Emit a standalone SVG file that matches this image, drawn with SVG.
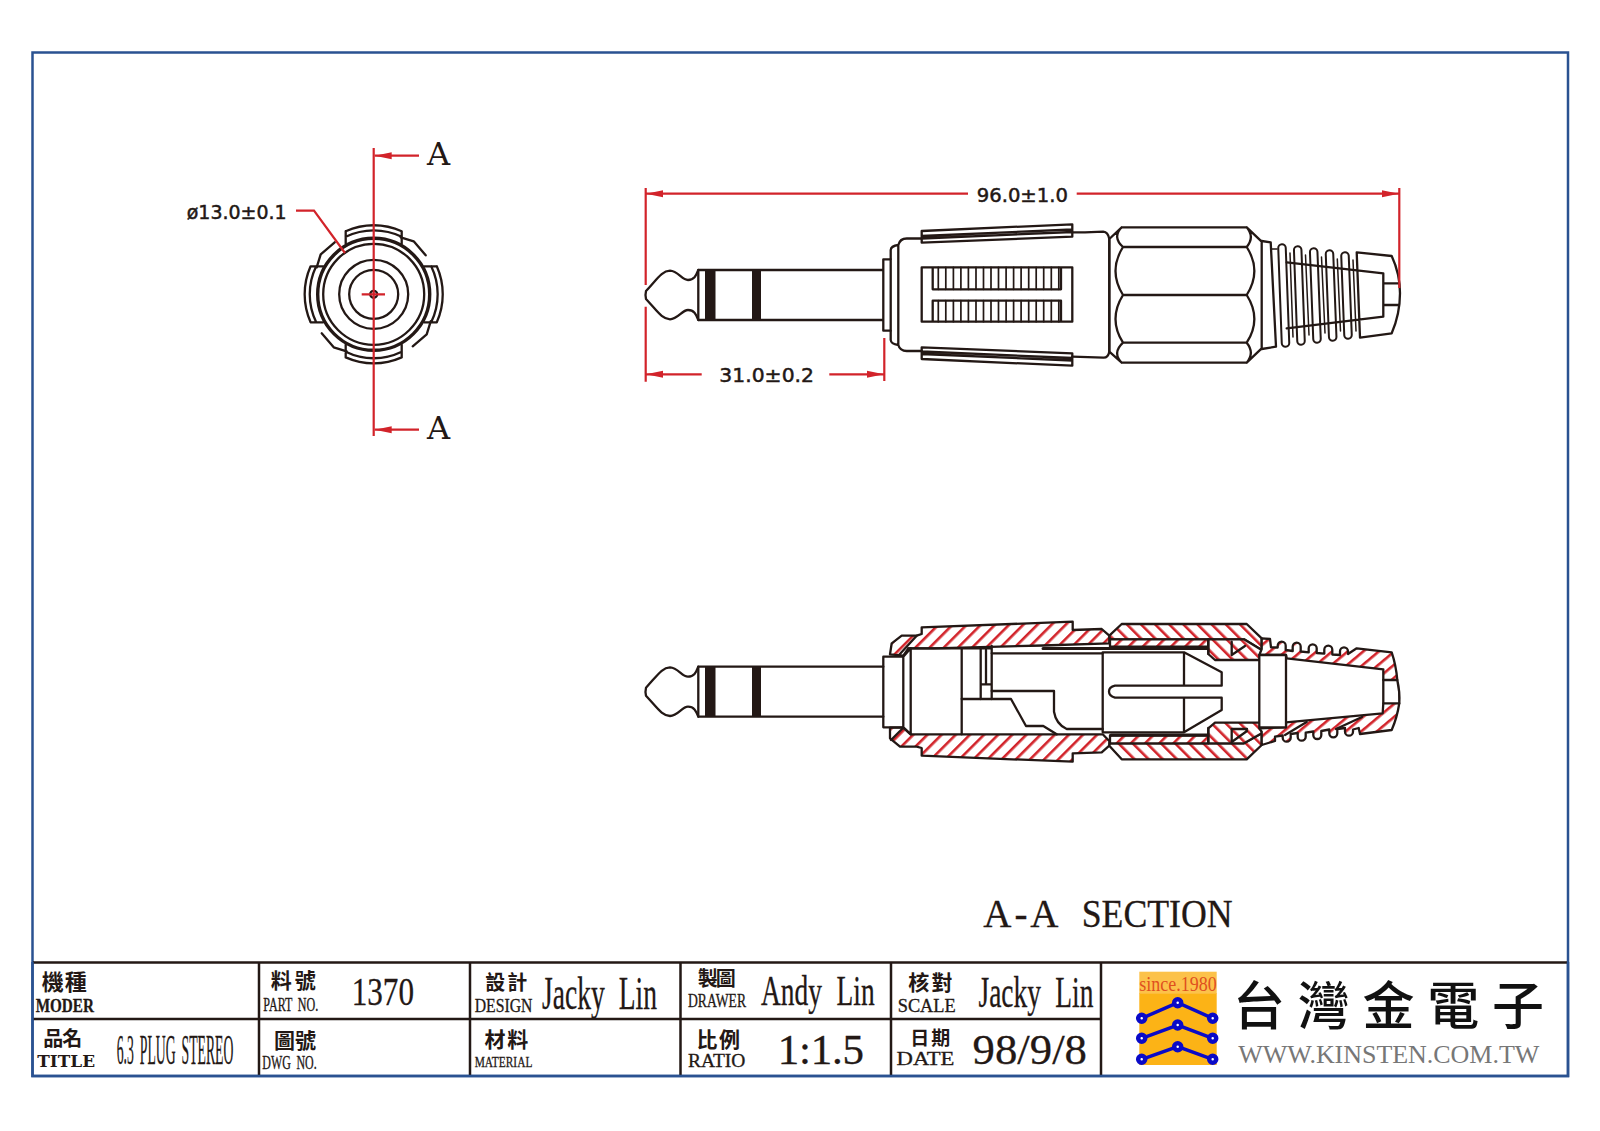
<svg xmlns="http://www.w3.org/2000/svg" xmlns:xlink="http://www.w3.org/1999/xlink" width="1600" height="1131" viewBox="0 0 1600 1131">
<style>
.k{fill:none;stroke:#231815;stroke-width:2.3;stroke-linejoin:round;stroke-linecap:round}
.w{fill:#fff;stroke:#231815;stroke-width:2.3;stroke-linejoin:round}
.r{fill:none;stroke:#d2232a;stroke-width:2.2}
.a{fill:url(#hA);stroke:#231815;stroke-width:2.3;stroke-linejoin:round}
.b{fill:url(#hB);stroke:#231815;stroke-width:2.3;stroke-linejoin:round}
.c{fill:url(#hC);stroke:#231815;stroke-width:2.3;stroke-linejoin:round}
.f{fill:#231815}
.dim{font-family:"DejaVu Sans","Liberation Sans",sans-serif;font-size:20px;fill:#231815;stroke:#231815;stroke-width:.5}
.wd{font-family:"DejaVu Serif","Liberation Serif",serif;fill:#231815}
.n{font-family:"Liberation Serif",serif;fill:#231815;stroke:#231815;stroke-width:.3}
.cj{font-family:"Noto Sans CJK TC","Noto Sans CJK SC",sans-serif;font-weight:700;fill:#231815}
.grid{stroke:#231815;stroke-width:2.5;fill:none}
.blue{stroke:#2a5291;stroke-width:2.5;fill:none}
.pb{fill:none;stroke:#0a0ac8;stroke-width:3.5}
.pc{fill:#fff;stroke:#0a0ac8;stroke-width:4.5}
.ro{stroke:#231815;stroke-width:9.5;stroke-linecap:round;fill:none}
.ri{stroke:#fff;stroke-width:5.5;stroke-linecap:round;fill:none}
</style>
<defs>
<marker id="ah" markerUnits="userSpaceOnUse" markerWidth="18" markerHeight="9" refX="17" refY="4" orient="auto"><path d="M0,0.5L17,4L0,7.5z" fill="#d2232a"/></marker>
<pattern id="hA" patternUnits="userSpaceOnUse" width="10" height="10" patternTransform="rotate(45)"><rect width="10" height="10" fill="#fff"/><rect x="4" width="2.6" height="10" fill="#d2232a"/></pattern>
<pattern id="hB" patternUnits="userSpaceOnUse" width="10" height="10" patternTransform="rotate(-45)"><rect width="10" height="10" fill="#fff"/><rect x="4" width="2.6" height="10" fill="#d2232a"/></pattern>
<pattern id="hC" patternUnits="userSpaceOnUse" width="10" height="10" patternTransform="rotate(50)"><rect width="10" height="10" fill="#fff"/><rect x="4" width="2.6" height="10" fill="#d2232a"/></pattern>
<g id="plug">
<path class="k" d="M698.3,270 C696,276 694,280 688,280 C682,280 678,271 670,270.7 C662,271 658,278 646,291 Q645,295 646,299 C658,312 662,319 670,319.3 C678,319 682,310 688,310 C694,310 696,314 698.3,320"/>
<path class="k" d="M698.3,270H883.3M698.3,320H883.3M698.3,270V320"/>
<rect class="f" x="705" y="270" width="10.5" height="50"/>
<rect class="f" x="752" y="270" width="9" height="50"/>
</g>
<path id="tab" class="k" d="M-28,-63.1A69,69 0 0 1 28,-63.1V-50.5M-28,-63.1V-50.5M-28,-57.5A64,64 0 0 1 28,-57.5M-39,-52L-53,-40L-57,-27"/>
<g id="strip" class="k"><path d="M921.7,231L1072.3,224.3V236.7L921.7,242.7ZM921.7,236L1072.3,229.5M921.7,238.5L1072.3,232"/></g>
</defs>
<rect width="1600" height="1131" fill="#fff"/>

<g id="frame">
<rect class="blue" x="32.5" y="52.5" width="1535.5" height="1023.5"/>
<path class="grid" d="M33,962.5H1567M33,1019H1101M259,962.5V1075M470,962.5V1075M680.5,962.5V1075M891,962.5V1075M1101,962.5V1075"/>
<path class="blue" d="M32.5,962V1076H1568V962"/>
</g>

<g id="end-view">
<g transform="translate(373.7,294.3)">
<circle class="k" r="56" style="stroke-width:3.4"/>
<circle class="k" r="50.5"/>
<circle class="k" r="34.5"/>
<circle class="k" r="24.5"/>
<circle class="k" r="3.5"/>
<use xlink:href="#tab" href="#tab"/>
<use xlink:href="#tab" href="#tab" transform="rotate(90)"/>
<use xlink:href="#tab" href="#tab" transform="rotate(180)"/>
<use xlink:href="#tab" href="#tab" transform="rotate(270)"/>
</g>
<path class="r" d="M373.7,148V436M361.7,294.3H385M296,210.7H314L345,253"/>
<path class="r" d="M419,155.7H374.7" marker-end="url(#ah)"/>
<path class="r" d="M419,429.7H374.7" marker-end="url(#ah)"/>
<text class="wd" x="427" y="164.700" font-size="32">A</text>
<text class="wd" x="427" y="439" font-size="32">A</text>
<text class="dim" x="186.700" y="219" textLength="100" lengthAdjust="spacingAndGlyphs">ø13.0±0.1</text>
</g>

<g id="side-view">
<use xlink:href="#plug" href="#plug"/>
<path class="w" d="M883.3,259.3H890.7V330.7H883.3Z"/>
<path class="k" d="M890.7,259V250Q891,246 898.3,245Q900,238.500 906.7,238.500H921.7M890.7,331V340Q891,344 898.300,345Q900,351 906.7,351H921.7M898.3,245V345"/>
<path class="k" d="M1072.3,232.300H1085L1103.3,231.700Q1108,232 1109.3,239V351.700Q1108,358 1103.3,357.700L1072.3,356.700"/>
<use xlink:href="#strip" href="#strip"/>
<use xlink:href="#strip" href="#strip" transform="translate(0,590) scale(1,-1)"/>
<path class="k" d="M921.7,267.300H1072.300V321.700H921.7ZM932.700,267.300V289.300H1061V267.300M932.700,321.700V300.700H1061V321.700"/>
<path class="k" style="stroke-width:1.700" d="M938.300,267.300V289.300M945.800,267.300V289.300M953.400,267.300V289.300M960.900,267.300V289.300M968.400,267.300V289.300M976,267.300V289.300M983.500,267.300V289.300M991,267.300V289.300M998.500,267.300V289.300M1006.100,267.300V289.300M1013.600,267.300V289.300M1021.100,267.300V289.300M1028.700,267.300V289.300M1036.200,267.300V289.300M1043.700,267.300V289.300M1051.300,267.300V289.300M1058.800,267.300V289.300M938.300,300.700V321.700M945.800,300.700V321.700M953.400,300.700V321.700M960.900,300.700V321.700M968.400,300.700V321.700M976,300.700V321.700M983.500,300.700V321.700M991,300.700V321.700M998.500,300.700V321.700M1006.100,300.700V321.700M1013.600,300.700V321.700M1021.100,300.700V321.700M1028.700,300.700V321.700M1036.200,300.700V321.700M1043.700,300.700V321.700M1051.300,300.700V321.700M1058.800,300.700V321.700"/>
<path class="k" d="M1109.300,239L1121.700,227.300H1246.700L1261.700,241.700V348.300L1246.700,362.700H1121.700L1109.300,351.700ZM1123,247H1246.700M1123,295H1246.700M1123,342.700H1246.700M1121.700,227.300Q1112,237 1123,247Q1108,271 1123,295Q1108,319 1123,342.700Q1112,353 1121.700,362.700M1246.700,227.300Q1255,237 1246.700,247Q1262,271 1246.700,295Q1262,319 1246.700,342.700Q1255,353 1246.700,362.700"/>
<path class="k" d="M1261.700,241L1270.700,242.300L1276,346.700L1261.700,349"/>
<g>
<path class="ro" d="M1282,248L1285.500,343M1297.700,250L1301,341M1313.700,252L1317,339M1329.500,254L1332.700,337M1345,256L1348,335"/>
<path class="ri" d="M1282,248L1285.500,343M1297.700,250L1301,341M1313.700,252L1317,339M1329.500,254L1332.700,337M1345,256L1348,335"/>
<path class="k" style="stroke-width:1.500" d="M1270.700,249H1277M1290,253L1293,337M1305.500,255L1309,335M1321.500,257L1325,333M1337.300,259L1340.500,331M1353,260L1356,331"/>
</g>
<path class="k" d="M1356.700,252.300L1391.700,256Q1400,274 1400,293.300Q1400,314 1391.700,333.300L1360,337.700L1356.700,252.300M1286.700,262.300L1383.300,273.300V316.700L1286.700,328.300M1383.300,283.300H1399M1383.300,305H1399"/>
<path class="r" d="M1399.300,188V288M645.700,188V285M645.700,306.700V381.700M884.300,338V381"/>
<path class="r" d="M968,193.700H646" marker-end="url(#ah)"/>
<path class="r" d="M1076.700,193.700H1399" marker-end="url(#ah)"/>
<path class="r" d="M701.700,374.300H646" marker-end="url(#ah)"/>
<path class="r" d="M829.300,374.300H884" marker-end="url(#ah)"/>
<text class="dim" x="976.700" y="202" textLength="91.300" lengthAdjust="spacingAndGlyphs">96.0±1.0</text>
<text class="dim" x="719.300" y="382" textLength="94.700" lengthAdjust="spacingAndGlyphs">31.0±0.2</text>
</g>

<g id="section-view">
<use xlink:href="#plug" href="#plug" transform="translate(0,396.700)"/>
<path class="a" d="M890,654.300L891.700,643.300L901.700,635.700H916.700L921.700,634V627.300L1072.700,621.700V630L1101.700,629L1109.300,635.700V643.300L1043,645.500L933.300,648.300H908.300L903.300,655.700Z"/>
<path class="k" d="M916.700,635.700L898.300,655.700"/>
<path class="a" d="M890,727.700V738.300L900,746.700H916.700L921.700,748V755.700L1072.700,761.700V753.300L1101.700,752.300L1109.300,745.700V741L1102.700,734.300H910.700L903.300,727.700Z"/>
<path class="k" d="M891,740L903.300,727.700"/>
<path class="b" d="M1109.300,635.700L1121.700,624H1246.700L1261.700,638.300V650L1244,639.300H1110Z"/>
<path class="b" d="M1109.300,745.700L1121.700,759.300H1246.700L1261.700,745V733.300L1244,743.300H1110Z"/>
<path class="a" d="M1110,639.300H1208.300V646.700H1110ZM1110,735.500H1208.300V743.300H1110Z"/>
<path class="k" style="stroke-width:3" d="M1043,648.500H1208.300M1111,735H1208"/>
<path class="b" d="M1208.300,639.300H1244L1261.700,650V660H1215L1208.300,654Z"/>
<path class="b" d="M1208.300,743.300H1244L1261.700,733.300V722.700H1215L1208.300,728.300Z"/>
<path class="k" d="M1231.700,641.700V655L1245,646M1231.700,742V729H1247M1231.700,742L1247,731"/>
<path class="c" d="M1261.700,649V638.300L1270,639L1271,647.300L1277.700,647.500V645.700A4,4 0 0 1 1285.700,645.700V650L1292.700,651V646.700A4,4 0 0 1 1300.700,646.700V651.500L1308.700,652.300V648.300A4,4 0 0 1 1316.700,648.300V653L1324.300,653.700V649.700A4,4 0 0 1 1332.300,649.700V654.500L1340,655V651.300A4,4 0 0 1 1348,651.300V654L1356.700,648.300L1391.700,652.300Q1396,665 1397.300,680H1383.300V669.300L1286.700,658.300L1286,655H1259.300Z"/>
<path class="c" d="M1383.300,703.300H1399.300Q1397,718 1391.700,730L1360,734L1358.700,728L1353,729.500V731.700A4,4 0 0 1 1345,731.700V728L1337.300,729V733.300A4,4 0 0 1 1329.300,733.300V729.500L1321.300,731V735A4,4 0 0 1 1313.300,735V731.500L1305.700,732.700V736.700A4,4 0 0 1 1297.700,736.700V733L1290.700,734V737.700A4,4 0 0 1 1282.700,737.700V735.500L1275,736.700V741L1261.700,745V731.700L1259.300,728.300L1286,727.300V722.300L1382.700,713.300Z"/>
<path class="k" d="M1285,735L1306.700,722M1336,729L1362,717"/>
<path class="w" d="M1259.300,655H1286L1286,727.300H1259.300Z" style="fill:#fff"/>
<path class="k" d="M1383.300,680V703.300M1397.300,680Q1400,692 1399.300,703.300"/>
<g class="k">
<path d="M903.300,656.700H883.300V727.300H903.300V656.700L910.700,648.300M903.300,727.300L910.700,734.300M910.700,648.300V734.300M961.700,648.300V734.300"/>
<path d="M908,648.300H991.700M980.700,648.300V699M991.700,646V699M980.700,684.300H991.700M986,650V684.300"/>
<path d="M991.700,653.300H1102.700M991.700,691H1054V711.700Q1056,724 1066.700,729H1102.700M961.700,699H1011L1026,726H1043.300L1056.700,734.300"/>
<path d="M1102.700,652.300V732.300M1102.700,652.300H1184L1221.700,672.300V685.700H1115Q1109,687 1109,691.500Q1109,696 1115,697.700H1221.700V710L1184,732.300H1102.700M1184,652.300V685.700M1184,697.700V732.300"/>
<path d="M1208.300,640V654M1208.300,728V743"/>
</g>
<text class="n" y="926.700" font-size="39"><tspan x="983.300" textLength="73" lengthAdjust="spacing">A-A</tspan> <tspan x="1081.700" textLength="151" lengthAdjust="spacingAndGlyphs">SECTION</tspan></text>
</g>

<g id="title-block">
<text class="cj" x="41.700" y="990" font-size="22" textLength="45">機種</text>
<text class="n" x="35.700" y="1012" font-size="18" font-weight="700" textLength="58.300" lengthAdjust="spacingAndGlyphs">MODER</text>
<text class="cj" x="270.700" y="988" font-size="21" textLength="45">料號</text>
<text class="n" x="263.300" y="1010.700" font-size="18" word-spacing="4" textLength="55" lengthAdjust="spacingAndGlyphs">PART NO.</text>
<text class="n" x="351.700" y="1005" font-size="40" textLength="62.300" lengthAdjust="spacingAndGlyphs">1370</text>
<text class="cj" x="43.300" y="1046" font-size="20" textLength="39">品名</text>
<text class="wd" x="37.300" y="1067.300" font-size="16.500" font-weight="700" textLength="57.700" lengthAdjust="spacingAndGlyphs">TITLE</text>
<text class="n" x="116.700" y="1064" font-size="43" word-spacing="8" textLength="116.600" lengthAdjust="spacingAndGlyphs">6.3 PLUG STEREO</text>
<text class="cj" x="274" y="1048" font-size="21" textLength="42">圖號</text>
<text class="n" x="262.300" y="1069.300" font-size="18" word-spacing="4" textLength="54.400" lengthAdjust="spacingAndGlyphs">DWG NO.</text>
<text class="cj" x="485.300" y="989.500" font-size="20" textLength="42">設計</text>
<text class="n" x="474.700" y="1011.700" font-size="18" textLength="57.700" lengthAdjust="spacingAndGlyphs">DESIGN</text>
<text class="n" x="542" y="1009" font-size="46" word-spacing="12" textLength="115" lengthAdjust="spacingAndGlyphs">Jacky Lin</text>
<text class="cj" x="697.800" y="985.500" font-size="20" textLength="38">製圖</text>
<text class="n" x="688" y="1007.300" font-size="18" textLength="58" lengthAdjust="spacingAndGlyphs">DRAWER</text>
<text class="n" x="761" y="1005" font-size="42" word-spacing="12" textLength="113.600" lengthAdjust="spacingAndGlyphs">Andy Lin</text>
<text class="cj" x="908.200" y="989.500" font-size="21" textLength="44.200">核對</text>
<text class="n" x="897.700" y="1011.700" font-size="18" textLength="58.100" lengthAdjust="spacingAndGlyphs">SCALE</text>
<text class="n" x="978.500" y="1006.700" font-size="44" word-spacing="12" textLength="114.900" lengthAdjust="spacingAndGlyphs">Jacky Lin</text>
<text class="cj" x="484.400" y="1047.300" font-size="21" textLength="43.800">材料</text>
<text class="n" x="474.700" y="1066.700" font-size="15" textLength="57.700" lengthAdjust="spacingAndGlyphs">MATERIAL</text>
<text class="cj" x="696.500" y="1047.300" font-size="21" textLength="43.400">比例</text>
<text class="n" x="688" y="1066.700" font-size="18" textLength="57.400" lengthAdjust="spacingAndGlyphs">RATIO</text>
<text class="n" x="777.800" y="1064" font-size="43" textLength="86.200" lengthAdjust="spacing">1:1.5</text>
<text class="cj" x="910.300" y="1044.700" font-size="19" textLength="40">日期</text>
<text class="n" x="896.500" y="1065" font-size="19" textLength="58" lengthAdjust="spacingAndGlyphs">DATE</text>
<text class="n" x="972.600" y="1064" font-size="43" textLength="114.400" lengthAdjust="spacingAndGlyphs">98/9/8</text>
</g>

<g id="logo">
<rect x="1139.300" y="993" width="77.400" height="72" fill="#fcb316"/>
<rect x="1139.300" y="971.700" width="77.400" height="22" fill="#fcc24a"/>
<text x="1139.300" y="990.700" font-family="Liberation Serif,serif" font-size="22" fill="#e0501e" textLength="77.400" lengthAdjust="spacingAndGlyphs">since.1980</text>
<path class="pb" d="M1141.700,1018.300L1177.700,1002.700L1212.700,1018.300M1141.700,1038.300L1177.700,1025L1212.700,1038.300M1141.700,1059.300L1177.700,1046.700L1212.700,1059.300"/>
<circle class="pc" cx="1141.700" cy="1018.300" r="3.500"/><circle class="pc" cx="1177.700" cy="1002.700" r="3.500"/><circle class="pc" cx="1212.700" cy="1018.300" r="3.500"/>
<circle class="pc" cx="1141.700" cy="1038.300" r="3.500"/><circle class="pc" cx="1177.700" cy="1025" r="3.500"/><circle class="pc" cx="1212.700" cy="1038.300" r="3.500"/>
<circle class="pc" cx="1141.700" cy="1059.300" r="3.500"/><circle class="pc" cx="1177.700" cy="1046.700" r="3.500"/><circle class="pc" cx="1212.700" cy="1059.300" r="3.500"/>
<text class="cj" x="1233" y="1025" font-size="52" style="font-weight:500;fill:#111" textLength="311">台灣金電子</text>
<text x="1238.300" y="1063.300" font-family="Liberation Serif,serif" font-size="26" fill="#777" textLength="301" lengthAdjust="spacing">WWW.KINSTEN.COM.TW</text>
</g>
</svg>
